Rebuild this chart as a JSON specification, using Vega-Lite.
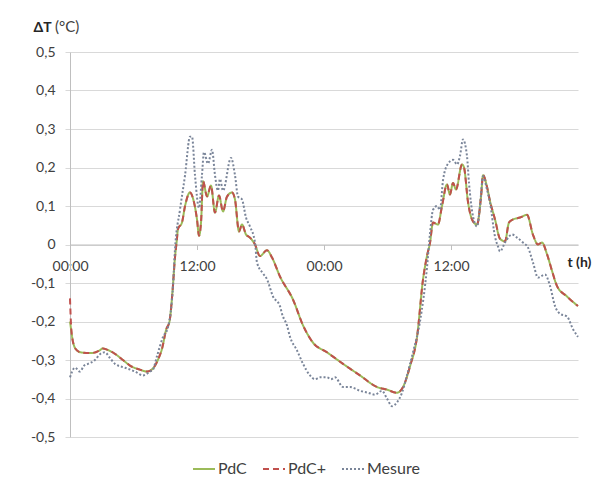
{
"$schema": "https://vega.github.io/schema/vega-lite/v6.json",
"width": 508, "height": 385,
"autosize": "none",
"padding": {"left": 70, "top": 52, "right": 18, "bottom": 45},
"background": "white",
"config": {"view": {"stroke": null}, "font": "Lato"},
"title": {"text": "(°C)", "anchor": "start", "frame": "group", "orient": "top", "offset": 0, "dy": 30, "dx": -15, "fontSize": 15, "fontWeight": "normal", "color": "#404040", "baseline": "bottom"},
"data": {"values": [
{"s":"PdC","t":0,"v":-0.2},{"s":"PdC","t":0.1,"v":-0.22},{"s":"PdC","t":0.2,"v":-0.24},{"s":"PdC","t":0.5,"v":-0.27},{"s":"PdC","t":1.0,"v":-0.28},{"s":"PdC","t":2.0,"v":-0.282},{"s":"PdC","t":2.8,"v":-0.275},{"s":"PdC","t":3.1,"v":-0.27},{"s":"PdC","t":3.5,"v":-0.273},{"s":"PdC","t":4.3,"v":-0.285},{"s":"PdC","t":5.0,"v":-0.3},{"s":"PdC","t":5.7,"v":-0.315},{"s":"PdC","t":6.6,"v":-0.325},{"s":"PdC","t":7.3,"v":-0.33},{"s":"PdC","t":7.9,"v":-0.32},{"s":"PdC","t":8.3,"v":-0.3},{"s":"PdC","t":8.7,"v":-0.27},{"s":"PdC","t":9.1,"v":-0.22},{"s":"PdC","t":9.4,"v":-0.2},{"s":"PdC","t":9.7,"v":-0.117},{"s":"PdC","t":9.9,"v":-0.04},{"s":"PdC","t":10.1,"v":0.013},{"s":"PdC","t":10.2,"v":0.04},{"s":"PdC","t":10.58,"v":0.057},{"s":"PdC","t":10.87,"v":0.1},{"s":"PdC","t":11.34,"v":0.135},{"s":"PdC","t":11.62,"v":0.12},{"s":"PdC","t":12.0,"v":0.065},{"s":"PdC","t":12.19,"v":0.023},{"s":"PdC","t":12.38,"v":0.057},{"s":"PdC","t":12.57,"v":0.164},{"s":"PdC","t":12.95,"v":0.125},{"s":"PdC","t":13.32,"v":0.153},{"s":"PdC","t":13.7,"v":0.083},{"s":"PdC","t":14.08,"v":0.127},{"s":"PdC","t":14.46,"v":0.086},{"s":"PdC","t":14.83,"v":0.124},{"s":"PdC","t":15.31,"v":0.135},{"s":"PdC","t":15.59,"v":0.117},{"s":"PdC","t":15.97,"v":0.034},{"s":"PdC","t":16.25,"v":0.052},{"s":"PdC","t":16.63,"v":0.026},{"s":"PdC","t":17.0,"v":0.018},{"s":"PdC","t":17.48,"v":0.0},{"s":"PdC","t":17.95,"v":-0.03},{"s":"PdC","t":18.61,"v":-0.015},{"s":"PdC","t":19.09,"v":-0.034},{"s":"PdC","t":19.84,"v":-0.083},{"s":"PdC","t":21.07,"v":-0.143},{"s":"PdC","t":22.02,"v":-0.21},{"s":"PdC","t":22.96,"v":-0.255},{"s":"PdC","t":24.28,"v":-0.28},{"s":"PdC","t":25.8,"v":-0.31},{"s":"PdC","t":27.4,"v":-0.34},{"s":"PdC","t":29.0,"v":-0.37},{"s":"PdC","t":29.95,"v":-0.377},{"s":"PdC","t":30.9,"v":-0.385},{"s":"PdC","t":31.47,"v":-0.37},{"s":"PdC","t":32.13,"v":-0.316},{"s":"PdC","t":32.79,"v":-0.24},{"s":"PdC","t":33.36,"v":-0.09},{"s":"PdC","t":33.73,"v":-0.03},{"s":"PdC","t":34.02,"v":0.005},{"s":"PdC","t":34.3,"v":0.057},{"s":"PdC","t":34.77,"v":0.052},{"s":"PdC","t":35.15,"v":0.1},{"s":"PdC","t":35.62,"v":0.156},{"s":"PdC","t":35.9,"v":0.13},{"s":"PdC","t":36.19,"v":0.16},{"s":"PdC","t":36.47,"v":0.143},{"s":"PdC","t":37.04,"v":0.208},{"s":"PdC","t":37.23,"v":0.2},{"s":"PdC","t":37.61,"v":0.11},{"s":"PdC","t":38.08,"v":0.06},{"s":"PdC","t":38.46,"v":0.052},{"s":"PdC","t":38.84,"v":0.125},{"s":"PdC","t":39.03,"v":0.18},{"s":"PdC","t":39.4,"v":0.15},{"s":"PdC","t":39.69,"v":0.112},{"s":"PdC","t":40.16,"v":0.065},{"s":"PdC","t":40.63,"v":0.015},{"s":"PdC","t":41.1,"v":0.008},{"s":"PdC","t":41.48,"v":0.057},{"s":"PdC","t":41.86,"v":0.065},{"s":"PdC","t":42.52,"v":0.07},{"s":"PdC","t":43.18,"v":0.077},{"s":"PdC","t":43.75,"v":0.025},{"s":"PdC","t":44.22,"v":0.0},{"s":"PdC","t":44.6,"v":0.005},{"s":"PdC","t":45.07,"v":-0.025},{"s":"PdC","t":45.54,"v":-0.068},{"s":"PdC","t":46.02,"v":-0.108},{"s":"PdC","t":46.96,"v":-0.135},{"s":"PdC","t":48,"v":-0.16},
{"s":"PdC+","t":0,"v":-0.14},{"s":"PdC+","t":0.1,"v":-0.21},{"s":"PdC+","t":0.2,"v":-0.24},{"s":"PdC+","t":0.5,"v":-0.27},{"s":"PdC+","t":1.0,"v":-0.28},{"s":"PdC+","t":2.0,"v":-0.282},{"s":"PdC+","t":2.8,"v":-0.275},{"s":"PdC+","t":3.1,"v":-0.27},{"s":"PdC+","t":3.5,"v":-0.273},{"s":"PdC+","t":4.3,"v":-0.285},{"s":"PdC+","t":5.0,"v":-0.3},{"s":"PdC+","t":5.7,"v":-0.315},{"s":"PdC+","t":6.6,"v":-0.325},{"s":"PdC+","t":7.3,"v":-0.33},{"s":"PdC+","t":7.9,"v":-0.32},{"s":"PdC+","t":8.3,"v":-0.3},{"s":"PdC+","t":8.7,"v":-0.27},{"s":"PdC+","t":9.1,"v":-0.22},{"s":"PdC+","t":9.4,"v":-0.2},{"s":"PdC+","t":9.7,"v":-0.117},{"s":"PdC+","t":9.9,"v":-0.04},{"s":"PdC+","t":10.1,"v":0.013},{"s":"PdC+","t":10.2,"v":0.04},{"s":"PdC+","t":10.58,"v":0.057},{"s":"PdC+","t":10.87,"v":0.1},{"s":"PdC+","t":11.34,"v":0.135},{"s":"PdC+","t":11.62,"v":0.12},{"s":"PdC+","t":12.0,"v":0.065},{"s":"PdC+","t":12.19,"v":0.023},{"s":"PdC+","t":12.38,"v":0.057},{"s":"PdC+","t":12.57,"v":0.164},{"s":"PdC+","t":12.95,"v":0.125},{"s":"PdC+","t":13.32,"v":0.153},{"s":"PdC+","t":13.7,"v":0.083},{"s":"PdC+","t":14.08,"v":0.127},{"s":"PdC+","t":14.46,"v":0.086},{"s":"PdC+","t":14.83,"v":0.124},{"s":"PdC+","t":15.31,"v":0.135},{"s":"PdC+","t":15.59,"v":0.117},{"s":"PdC+","t":15.97,"v":0.034},{"s":"PdC+","t":16.25,"v":0.052},{"s":"PdC+","t":16.63,"v":0.026},{"s":"PdC+","t":17.0,"v":0.018},{"s":"PdC+","t":17.48,"v":0.0},{"s":"PdC+","t":17.95,"v":-0.03},{"s":"PdC+","t":18.61,"v":-0.015},{"s":"PdC+","t":19.09,"v":-0.034},{"s":"PdC+","t":19.84,"v":-0.083},{"s":"PdC+","t":21.07,"v":-0.143},{"s":"PdC+","t":22.02,"v":-0.21},{"s":"PdC+","t":22.96,"v":-0.255},{"s":"PdC+","t":24.28,"v":-0.28},{"s":"PdC+","t":25.8,"v":-0.31},{"s":"PdC+","t":27.4,"v":-0.34},{"s":"PdC+","t":29.0,"v":-0.37},{"s":"PdC+","t":29.95,"v":-0.377},{"s":"PdC+","t":30.9,"v":-0.385},{"s":"PdC+","t":31.47,"v":-0.37},{"s":"PdC+","t":32.13,"v":-0.316},{"s":"PdC+","t":32.79,"v":-0.24},{"s":"PdC+","t":33.36,"v":-0.09},{"s":"PdC+","t":33.73,"v":-0.03},{"s":"PdC+","t":34.02,"v":0.005},{"s":"PdC+","t":34.3,"v":0.057},{"s":"PdC+","t":34.77,"v":0.052},{"s":"PdC+","t":35.15,"v":0.1},{"s":"PdC+","t":35.62,"v":0.156},{"s":"PdC+","t":35.9,"v":0.13},{"s":"PdC+","t":36.19,"v":0.16},{"s":"PdC+","t":36.47,"v":0.143},{"s":"PdC+","t":37.04,"v":0.208},{"s":"PdC+","t":37.23,"v":0.2},{"s":"PdC+","t":37.61,"v":0.11},{"s":"PdC+","t":38.08,"v":0.06},{"s":"PdC+","t":38.46,"v":0.052},{"s":"PdC+","t":38.84,"v":0.125},{"s":"PdC+","t":39.03,"v":0.18},{"s":"PdC+","t":39.4,"v":0.15},{"s":"PdC+","t":39.69,"v":0.112},{"s":"PdC+","t":40.16,"v":0.065},{"s":"PdC+","t":40.63,"v":0.015},{"s":"PdC+","t":41.1,"v":0.008},{"s":"PdC+","t":41.48,"v":0.057},{"s":"PdC+","t":41.86,"v":0.065},{"s":"PdC+","t":42.52,"v":0.07},{"s":"PdC+","t":43.18,"v":0.077},{"s":"PdC+","t":43.75,"v":0.025},{"s":"PdC+","t":44.22,"v":0.0},{"s":"PdC+","t":44.6,"v":0.005},{"s":"PdC+","t":45.07,"v":-0.025},{"s":"PdC+","t":45.54,"v":-0.068},{"s":"PdC+","t":46.02,"v":-0.108},{"s":"PdC+","t":46.96,"v":-0.135},{"s":"PdC+","t":48,"v":-0.16},
{"s":"Mesure","t":0,"v":-0.345},{"s":"Mesure","t":0.47,"v":-0.32},{"s":"Mesure","t":0.94,"v":-0.33},{"s":"Mesure","t":1.32,"v":-0.315},{"s":"Mesure","t":1.7,"v":-0.31},{"s":"Mesure","t":2.36,"v":-0.3},{"s":"Mesure","t":2.83,"v":-0.285},{"s":"Mesure","t":3.3,"v":-0.28},{"s":"Mesure","t":3.78,"v":-0.295},{"s":"Mesure","t":4.25,"v":-0.31},{"s":"Mesure","t":5.2,"v":-0.32},{"s":"Mesure","t":6.14,"v":-0.33},{"s":"Mesure","t":6.9,"v":-0.34},{"s":"Mesure","t":7.56,"v":-0.33},{"s":"Mesure","t":7.84,"v":-0.325},{"s":"Mesure","t":8.22,"v":-0.29},{"s":"Mesure","t":8.79,"v":-0.24},{"s":"Mesure","t":9.26,"v":-0.215},{"s":"Mesure","t":9.54,"v":-0.17},{"s":"Mesure","t":9.73,"v":-0.11},{"s":"Mesure","t":9.92,"v":-0.013},{"s":"Mesure","t":10.39,"v":0.09},{"s":"Mesure","t":10.87,"v":0.18},{"s":"Mesure","t":11.34,"v":0.28},{"s":"Mesure","t":11.53,"v":0.28},{"s":"Mesure","t":11.81,"v":0.18},{"s":"Mesure","t":12.19,"v":0.095},{"s":"Mesure","t":12.47,"v":0.18},{"s":"Mesure","t":12.66,"v":0.24},{"s":"Mesure","t":13.04,"v":0.21},{"s":"Mesure","t":13.42,"v":0.246},{"s":"Mesure","t":13.7,"v":0.18},{"s":"Mesure","t":13.98,"v":0.14},{"s":"Mesure","t":14.17,"v":0.17},{"s":"Mesure","t":14.46,"v":0.14},{"s":"Mesure","t":15.21,"v":0.225},{"s":"Mesure","t":15.59,"v":0.18},{"s":"Mesure","t":15.87,"v":0.125},{"s":"Mesure","t":16.25,"v":0.117},{"s":"Mesure","t":16.63,"v":0.07},{"s":"Mesure","t":17.0,"v":0.047},{"s":"Mesure","t":17.48,"v":0.005},{"s":"Mesure","t":17.67,"v":-0.047},{"s":"Mesure","t":18.24,"v":-0.075},{"s":"Mesure","t":18.61,"v":-0.09},{"s":"Mesure","t":19.18,"v":-0.135},{"s":"Mesure","t":19.84,"v":-0.16},{"s":"Mesure","t":20.03,"v":-0.18},{"s":"Mesure","t":20.5,"v":-0.21},{"s":"Mesure","t":20.79,"v":-0.24},{"s":"Mesure","t":21.45,"v":-0.275},{"s":"Mesure","t":22.02,"v":-0.31},{"s":"Mesure","t":22.68,"v":-0.34},{"s":"Mesure","t":23.15,"v":-0.35},{"s":"Mesure","t":23.62,"v":-0.345},{"s":"Mesure","t":24.28,"v":-0.345},{"s":"Mesure","t":24.66,"v":-0.35},{"s":"Mesure","t":25.04,"v":-0.345},{"s":"Mesure","t":25.8,"v":-0.37},{"s":"Mesure","t":26.46,"v":-0.37},{"s":"Mesure","t":27.4,"v":-0.38},{"s":"Mesure","t":28.16,"v":-0.385},{"s":"Mesure","t":28.82,"v":-0.39},{"s":"Mesure","t":29.48,"v":-0.38},{"s":"Mesure","t":29.95,"v":-0.4},{"s":"Mesure","t":30.43,"v":-0.42},{"s":"Mesure","t":30.9,"v":-0.41},{"s":"Mesure","t":31.37,"v":-0.385},{"s":"Mesure","t":31.84,"v":-0.34},{"s":"Mesure","t":32.41,"v":-0.28},{"s":"Mesure","t":33.07,"v":-0.2},{"s":"Mesure","t":33.73,"v":-0.06},{"s":"Mesure","t":34.02,"v":0.03},{"s":"Mesure","t":34.3,"v":0.09},{"s":"Mesure","t":34.68,"v":0.1},{"s":"Mesure","t":34.96,"v":0.09},{"s":"Mesure","t":35.25,"v":0.168},{"s":"Mesure","t":35.72,"v":0.21},{"s":"Mesure","t":36.19,"v":0.22},{"s":"Mesure","t":36.57,"v":0.208},{"s":"Mesure","t":36.85,"v":0.23},{"s":"Mesure","t":37.13,"v":0.273},{"s":"Mesure","t":37.51,"v":0.23},{"s":"Mesure","t":37.7,"v":0.16},{"s":"Mesure","t":38.08,"v":0.073},{"s":"Mesure","t":38.46,"v":0.047},{"s":"Mesure","t":38.74,"v":0.1},{"s":"Mesure","t":39.03,"v":0.177},{"s":"Mesure","t":39.4,"v":0.143},{"s":"Mesure","t":39.69,"v":0.108},{"s":"Mesure","t":40.16,"v":0.02},{"s":"Mesure","t":40.44,"v":-0.005},{"s":"Mesure","t":40.63,"v":-0.018},{"s":"Mesure","t":41.1,"v":0.005},{"s":"Mesure","t":41.76,"v":0.026},{"s":"Mesure","t":42.24,"v":0.018},{"s":"Mesure","t":42.8,"v":0.005},{"s":"Mesure","t":43.28,"v":-0.008},{"s":"Mesure","t":43.75,"v":-0.047},{"s":"Mesure","t":44.22,"v":-0.086},{"s":"Mesure","t":44.88,"v":-0.078},{"s":"Mesure","t":45.36,"v":-0.108},{"s":"Mesure","t":45.83,"v":-0.16},{"s":"Mesure","t":46.3,"v":-0.18},{"s":"Mesure","t":46.96,"v":-0.187},{"s":"Mesure","t":47.53,"v":-0.22},{"s":"Mesure","t":48,"v":-0.24}
]},
"mark": {"type": "line", "interpolate": "monotone", "strokeWidth": 2},
"encoding": {
  "x": {"field": "t", "type": "quantitative",
    "scale": {"domain": [0, 48], "nice": false, "zero": false},
    "axis": {"values": [0, 12, 24, 36], "labelExpr": "datum.value % 24 == 0 ? '00:00' : '12:00'",
      "offset": -192.5, "grid": false, "domainColor": "#bfbfbf", "tickColor": "#bfbfbf", "tickSize": 5,
      "labelPadding": 17, "labelBaseline": "middle", "labelFlush": false, "labelOverlap": false,
      "labelFontSize": 14, "labelColor": "#404040",
      "title": "t (h)", "titleX": 497, "titleY": 18, "titleAlign": "left", "titleBaseline": "middle",
      "titleFontSize": 14, "titleFontWeight": "bold", "titleColor": "#262626"}},
  "y": {"field": "v", "type": "quantitative",
    "scale": {"domain": [-0.5, 0.5], "nice": false, "zero": false},
    "axis": {"values": [-0.5, -0.4, -0.3, -0.2, -0.1, 0, 0.1, 0.2, 0.3, 0.4, 0.5],
      "labelExpr": "replace(toString(datum.value), '.', ',')",
      "grid": true, "gridColor": "#d9d9d9", "domainColor": "#bfbfbf", "tickColor": "#d9d9d9", "tickSize": 5,
      "labelPadding": 10, "labelFontSize": 14, "labelColor": "#404040",
      "title": "ΔT", "titleAngle": 0, "titleX": -37, "titleY": -25, "titleAlign": "left", "titleBaseline": "middle",
      "titleFontSize": 14, "titleFontWeight": "bold", "titleColor": "#262626"}},
  "color": {"field": "s", "type": "nominal",
    "scale": {"domain": ["PdC", "PdC+", "Mesure"], "range": ["#9BBB59", "#C0504D", "#7A8599"]},
    "legend": {"orient": "none", "legendX": 122, "legendY": 405, "direction": "horizontal", "title": null,
      "labelFontSize": 16, "labelColor": "#404040", "symbolType": "stroke", "symbolSize": 484, "symbolStrokeWidth": 2,
      "labelOffset": 2, "columnPadding": 12, "padding": 0}},
  "strokeDash": {"field": "s", "type": "nominal",
    "scale": {"domain": ["PdC", "PdC+", "Mesure"], "range": [[1, 0], [6, 4], [2, 2]]},
    "legend": {"orient": "none", "legendX": 122, "legendY": 405, "direction": "horizontal", "title": null,
      "labelFontSize": 16, "labelColor": "#404040", "symbolType": "stroke", "symbolSize": 484, "symbolStrokeWidth": 2,
      "labelOffset": 2, "columnPadding": 12, "padding": 0}}
}
}
